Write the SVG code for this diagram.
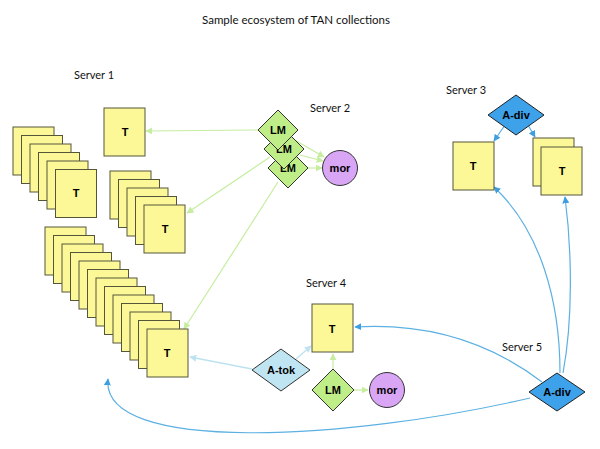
<svg xmlns="http://www.w3.org/2000/svg" xmlns:xlink="http://www.w3.org/1999/xlink" width="600" height="449" viewBox="0 0 600 449">
<style>
.lbl{font-family:Lato,"Open Sans","DejaVu Sans",sans-serif;font-size:11px;fill:#111}
.title{font-family:Lato,"Open Sans","DejaVu Sans",sans-serif;font-size:11.5px;fill:#111}
.nt{font-family:"Liberation Sans",Arial,sans-serif;font-weight:bold;font-size:11px;fill:#000;text-anchor:middle}
.card{fill:#fdf897;stroke:#55553a;stroke-width:1}
.lm{fill:#bfee88;stroke:#333;stroke-width:1}
.mor{fill:#d9a6f5;stroke:#333;stroke-width:1}
.adiv{fill:#3ea2ea;stroke:#222;stroke-width:1}
.atok{fill:#bfe4f2;stroke:#333;stroke-width:1}
.g{fill:none;stroke:#c6eda0;stroke-width:1.2}
.b{fill:none;stroke:#5cb0e2;stroke-width:1.2}
.lb{fill:none;stroke:#bde2f0;stroke-width:1.4}
</style>
<defs>
<rect id="card" class="card" width="41" height="48"/>
<marker id="ag" viewBox="0 0 10 10" refX="9" refY="5" markerWidth="7" markerHeight="7" orient="auto" markerUnits="userSpaceOnUse"><path d="M0,0 L10,5 L0,10 z" fill="#c6eda0"/></marker>
<marker id="ab" viewBox="0 0 10 10" refX="9" refY="5" markerWidth="7" markerHeight="7" orient="auto" markerUnits="userSpaceOnUse"><path d="M0,0 L10,5 L0,10 z" fill="#3d9fe0"/></marker>
<marker id="alb" viewBox="0 0 10 10" refX="9" refY="5" markerWidth="7" markerHeight="7" orient="auto" markerUnits="userSpaceOnUse"><path d="M0,0 L10,5 L0,10 z" fill="#bde2f0"/></marker>
</defs>
<rect width="600" height="449" fill="#fff"/>
<text class="title" x="296" y="24" text-anchor="middle">Sample ecosystem of TAN collections</text>
<g id="labels">
<text class="lbl" x="74" y="79">Server 1</text>
<text class="lbl" x="310" y="112">Server 2</text>
<text class="lbl" x="446" y="94">Server 3</text>
<text class="lbl" x="306" y="287">Server 4</text>
<text class="lbl" x="502" y="351">Server 5</text>
</g>
<g id="connectors">
<line class="g" x1="258" y1="130" x2="146" y2="131" marker-end="url(#ag)"/>
<line class="g" x1="270" y1="157" x2="187" y2="213" marker-end="url(#ag)"/>
<line class="g" x1="278" y1="182" x2="184" y2="329" marker-end="url(#ag)"/>
<line class="g" x1="293" y1="139" x2="324" y2="157" marker-end="url(#ag)"/>
<line class="g" x1="300" y1="155" x2="323" y2="161" marker-end="url(#ag)"/>
<line class="g" x1="308" y1="168" x2="322" y2="168" marker-end="url(#ag)"/>
<line class="g" x1="333" y1="369" x2="333" y2="354" marker-end="url(#ag)"/>
<line class="g" x1="354" y1="390" x2="368" y2="390" marker-end="url(#ag)"/>
<line class="lb" x1="296" y1="359" x2="311" y2="346" marker-end="url(#alb)"/>
<line class="lb" x1="252" y1="369" x2="190" y2="357" marker-end="url(#alb)"/>
<line class="b" x1="505" y1="125" x2="494" y2="141" marker-end="url(#ab)"/>
<line class="b" x1="528" y1="125" x2="535" y2="137" marker-end="url(#ab)"/>
<path class="b" d="M560,373 C560,300 540,230 494,187" marker-end="url(#ab)"/>
<path class="b" d="M563,373 C573,320 572,250 565,197" marker-end="url(#ab)"/>
<path class="b" d="M542,382 C500,350 440,322 355,327" marker-end="url(#ab)"/>
<path class="b" d="M530,398 C350,440 100,455 108,379" marker-end="url(#ab)"/>
</g>
<g id="s1-single-T">
<use xlink:href="#card" x="104" y="108"/>
<text class="nt" x="125" y="136">T</text>
</g>
<g id="s1-stack-top">
<use xlink:href="#card" x="13" y="127"/>
<use xlink:href="#card" x="21.5" y="135.5"/>
<use xlink:href="#card" x="30" y="144"/>
<use xlink:href="#card" x="38.5" y="152.5"/>
<use xlink:href="#card" x="47" y="161"/>
<use xlink:href="#card" x="55.5" y="169.5"/>
<text class="nt" x="76" y="197">T</text>
</g>
<g id="s1-stack-mid">
<use xlink:href="#card" x="110" y="171"/>
<use xlink:href="#card" x="118.5" y="179.5"/>
<use xlink:href="#card" x="127" y="188"/>
<use xlink:href="#card" x="135.5" y="196.5"/>
<use xlink:href="#card" x="144" y="205"/>
<text class="nt" x="165" y="233">T</text>
</g>
<g id="s1-stack-bottom">
<use xlink:href="#card" x="45" y="227"/>
<use xlink:href="#card" x="53.5" y="235.5"/>
<use xlink:href="#card" x="62" y="244"/>
<use xlink:href="#card" x="70.5" y="252.5"/>
<use xlink:href="#card" x="79" y="261"/>
<use xlink:href="#card" x="87.5" y="269.5"/>
<use xlink:href="#card" x="96" y="278"/>
<use xlink:href="#card" x="104.5" y="286.5"/>
<use xlink:href="#card" x="113" y="295"/>
<use xlink:href="#card" x="121.5" y="303.5"/>
<use xlink:href="#card" x="130" y="312"/>
<use xlink:href="#card" x="138.5" y="320.5"/>
<use xlink:href="#card" x="147" y="329"/>
<text class="nt" x="167" y="357">T</text>
</g>
<g id="s2-LM-3">
<polygon class="lm" points="288,148 308,168 288,188 268,168"/>
<text class="nt" x="288" y="172">LM</text>
</g>
<g id="s2-LM-2">
<polygon class="lm" points="284,129 304,149 284,169 264,149"/>
<text class="nt" x="284" y="153">LM</text>
</g>
<g id="s2-LM-1">
<polygon class="lm" points="278,110 298,130 278,150 258,130"/>
<text class="nt" x="278" y="134">LM</text>
</g>
<g id="s2-mor">
<circle class="mor" cx="340" cy="168" r="17.5"/>
<text class="nt" x="340" y="172">mor</text>
</g>
<g id="s3-A-div">
<polygon class="adiv" points="516,95 544,115 516,135 488,115"/>
<text class="nt" x="516" y="119">A-div</text>
</g>
<g id="s3-T">
<use xlink:href="#card" x="453" y="142"/>
<text class="nt" x="473" y="170">T</text>
</g>
<g id="s3-T-stack">
<use xlink:href="#card" x="533" y="138"/>
<use xlink:href="#card" x="541" y="147"/>
<text class="nt" x="562" y="175">T</text>
</g>
<g id="s4-T">
<use xlink:href="#card" x="312" y="304"/>
<text class="nt" x="332" y="333">T</text>
</g>
<g id="s4-A-tok">
<polygon class="atok" points="281,349 310,370 281,391 252,370"/>
<text class="nt" x="281" y="374">A-tok</text>
</g>
<g id="s4-LM">
<polygon class="lm" points="333,369 354,390 333,411 312,390"/>
<text class="nt" x="333" y="394">LM</text>
</g>
<g id="s4-mor">
<circle class="mor" cx="387" cy="390" r="17.5"/>
<text class="nt" x="387" y="394">mor</text>
</g>
<g id="s5-A-div">
<polygon class="adiv" points="557,373 585,392 557,411 529,392"/>
<text class="nt" x="557" y="396">A-div</text>
</g>
</svg>
